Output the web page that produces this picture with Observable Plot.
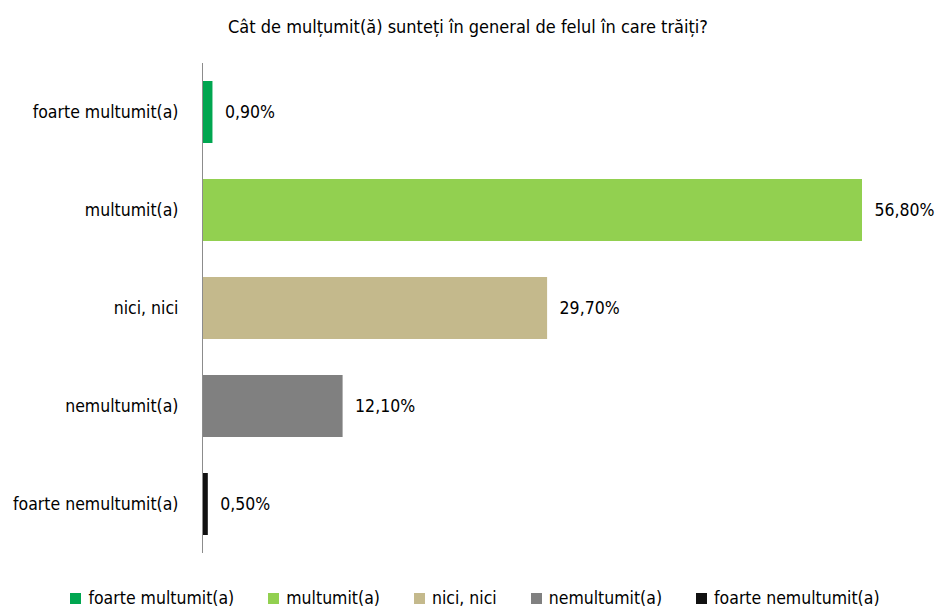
<!DOCTYPE html>
<html>
<head>
<meta charset="utf-8">
<script src="https://cdn.jsdelivr.net/npm/d3@7"></script>
<script src="https://cdn.jsdelivr.net/npm/@observablehq/plot@0.6"></script>
<style>
  body { margin: 0; background: #fff; font-family: "DejaVu Sans Condensed", "DejaVu Sans", sans-serif; font-stretch: condensed; }
  #wrap { position: relative; width: 944px; height: 608px; overflow: hidden; }
  #title { position: absolute; top: 16px; left: 0; width: 944px; text-align: center; font-size: 18px; color: #000; margin-left: -4px; white-space: nowrap; }
  #legend { position: absolute; top: 588px; left: 0; width: 944px; display: flex; justify-content: center; gap: 34px; font-size: 17.5px; padding-left: 6px; box-sizing: border-box; }
  .item { display: flex; align-items: center; white-space: nowrap; }
  .sw { width: 11px; height: 11px; margin-right: 7px; }
  svg text { font-stretch: condensed; }
</style>
</head>
<body>
<div id="wrap">
  <div id="title">Cât de mulțumit(ă) sunteți în general de felul în care trăiți?</div>
  <div id="chart"></div>
  <div id="legend"></div>
</div>
<script>
const categories = ["foarte multumit(a)", "multumit(a)", "nici, nici", "nemultumit(a)", "foarte nemultumit(a)"];
const values = [0.9, 56.8, 29.7, 12.1, 0.5];
const colors = ["#00A650", "#92D050", "#C4B98C", "#808080", "#111111"];

const data = categories.map((c, i) => ({category: c, value: values[i], color: colors[i]}));
const fmt = v => v.toFixed(2).replace(".", ",") + "%";

const plot = Plot.plot({
  width: 944,
  height: 608,
  marginTop: 63,
  marginBottom: 55,
  marginLeft: 202,
  marginRight: 82,
  style: {fontFamily: '"DejaVu Sans Condensed", "DejaVu Sans", sans-serif', fontSize: "17.5px", color: "#000"},
  x: {domain: [0, 56.8], axis: null},
  y: {domain: categories, padding: 0, label: null, tickSize: 0, tickPadding: 24},
  color: {domain: categories, range: colors},
  marks: [
    Plot.barX(data, {x: "value", y: "category", fill: "category", insetTop: 18, insetBottom: 18}),
    Plot.ruleX([0], {stroke: "#8c8c8c", strokeWidth: 1}),
    Plot.text(data, {x: "value", y: "category", text: d => fmt(d.value), textAnchor: "start", dx: 12, fontSize: 17.5, fill: "#000"}),
    Plot.axisY({tickSize: 0, tickPadding: 24, fontSize: 17.5, label: null})
  ]
});
document.getElementById("chart").appendChild(plot);

const legend = document.getElementById("legend");
categories.forEach((c, i) => {
  const it = document.createElement("div");
  it.className = "item";
  const sw = document.createElement("span");
  sw.className = "sw";
  sw.style.background = colors[i];
  const t = document.createElement("span");
  t.textContent = c;
  it.appendChild(sw);
  it.appendChild(t);
  legend.appendChild(it);
});
</script>
</body>
</html>
